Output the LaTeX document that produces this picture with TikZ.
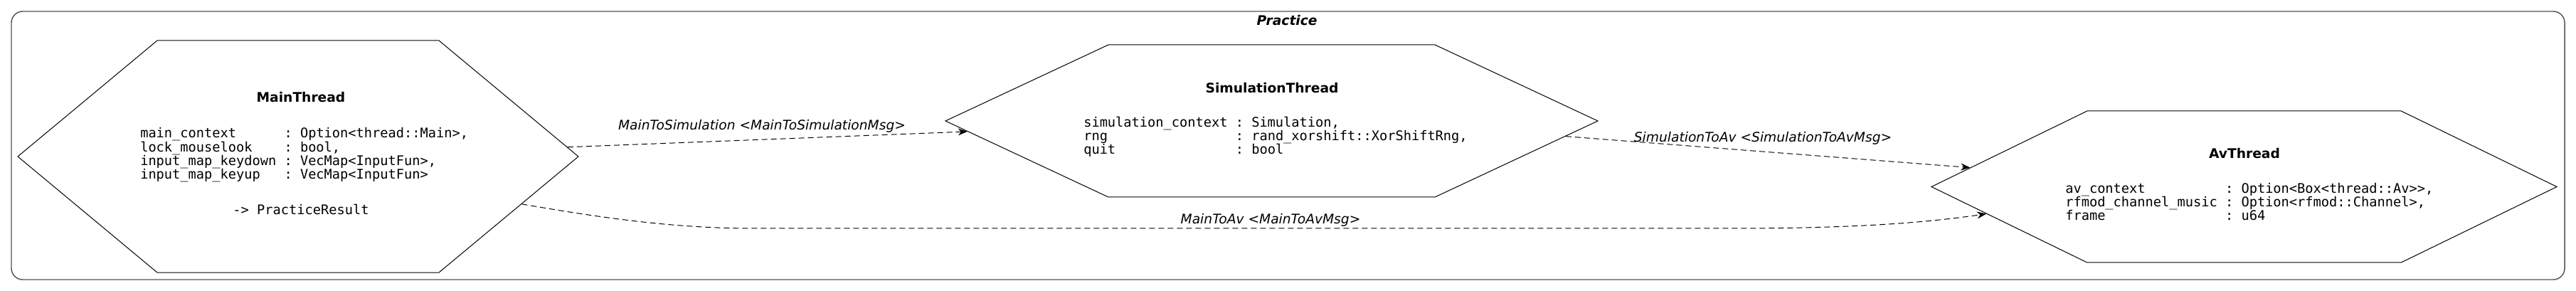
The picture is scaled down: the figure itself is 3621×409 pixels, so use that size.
\documentclass[tikz,border=0pt]{standalone}
\usepackage{fontspec}
\setmainfont{DejaVu Sans}
\setmonofont{DejaVu Sans Mono}
\usepackage{tikz}
\usetikzlibrary{arrows.meta,shapes.symbols}
\definecolor{ink}{HTML}{000000}
\definecolor{framegray}{HTML}{555555}
\tikzset{
  threadhex/.style={shape=signal,signal to=east and west,draw=ink,
                    line width=0.75pt,inner sep=0pt},
  threadtitle/.style={font=\fontsize{14}{14.5}\selectfont\bfseries,
                      anchor=base,inner sep=0pt},
  fieldlist/.style={font=\fontsize{14}{14.5}\selectfont\ttfamily,
                    align=left,anchor=base west,inner sep=0pt},
  msgarr/.style={-{Stealth[length=9.75pt,width=7.5pt]},line width=0.75pt,
                 draw=ink,dash pattern=on 6pt off 3.75pt},
  msglabel/.style={font=\fontsize{14}{14.5}\selectfont\itshape,
                   anchor=base,inner sep=0pt},
  clusterbox/.style={draw=framegray,line width=1.1pt,rounded corners=12pt},
  clustertitle/.style={font=\fontsize{14}{14.5}\selectfont\bfseries\itshape,
                       anchor=base,inner sep=0pt}
}
\begin{document}
\begin{tikzpicture}[x=0.75pt,y=-0.75pt]
    \useasboundingbox (0,0) rectangle (3621,409);

    \draw[clusterbox] (16,16) rectangle (3605,393);
    \node[clustertitle] (practice) at (1809,36) {Practice};

    % main thread (base = last field line)
    \node[threadhex,signal pointer angle=79.5,minimum width=591pt,
          minimum height=244.5pt] (main) at (419,220) {};
    \node[threadtitle] (mainname) at (423,144) {MainThread};
    \node[fieldlist] (mainfields) at (197,252)
      {main\_context~~~~~~: Option<thread::Main>,\\
       lock\_mouselook~~~~: bool,\\
       input\_map\_keydown : VecMap<InputFun>,\\
       input\_map\_keyup~~~: VecMap<InputFun>};
    \node[fieldlist,anchor=base] (mainret) at (423,302) {-> PracticeResult};

    % simulation thread
    \node[threadhex,signal pointer angle=50.1,minimum width=687.75pt,
          minimum height=160.5pt] (sim) at (1787.5,170) {};
    \node[threadtitle] (simname) at (1788,130.5) {SimulationThread};
    \node[fieldlist] (simfields) at (1523,217)
      {simulation\_context : Simulation,\\
       rng~~~~~~~~~~~~~~~~: rand\_xorshift::XorShiftRng,\\
       quit~~~~~~~~~~~~~~~: bool};

    % av thread
    \node[threadhex,signal pointer angle=51.9,minimum width=659.25pt,
          minimum height=159.75pt] (av) at (3154.5,262.5) {};
    \node[threadtitle] (avname) at (3155,223) {AvThread};
    \node[fieldlist] (avfields) at (2903,310)
      {av\_context~~~~~~~~~~: Option<Box<thread::Av>>,\\
       rfmod\_channel\_music : Option<rfmod::Channel>,\\
       frame~~~~~~~~~~~~~~~: u64};

    % channels
    \draw[msgarr] (main.2.1) -- (sim.182.15);
    \node[msglabel] (main2sim) at (1071,183)
      {MainToSimulation <MainToSimulationMsg>};
    \draw[msgarr] (sim.-3.87) -- (av.176.1);
    \node[msglabel] (sim2av) at (2478,200)
      {SimulationToAv <SimulationToAvMsg>};
    \draw[msgarr] (main.-12.5) .. controls (850,307) and (950,321) .. (1060,321)
      -- (2430,321) .. controls (2600,321) and (2700,314) .. (av.186.7);
    \node[msglabel] (main2av) at (1786,315) {MainToAv <MainToAvMsg>};
\end{tikzpicture}
\end{document}
